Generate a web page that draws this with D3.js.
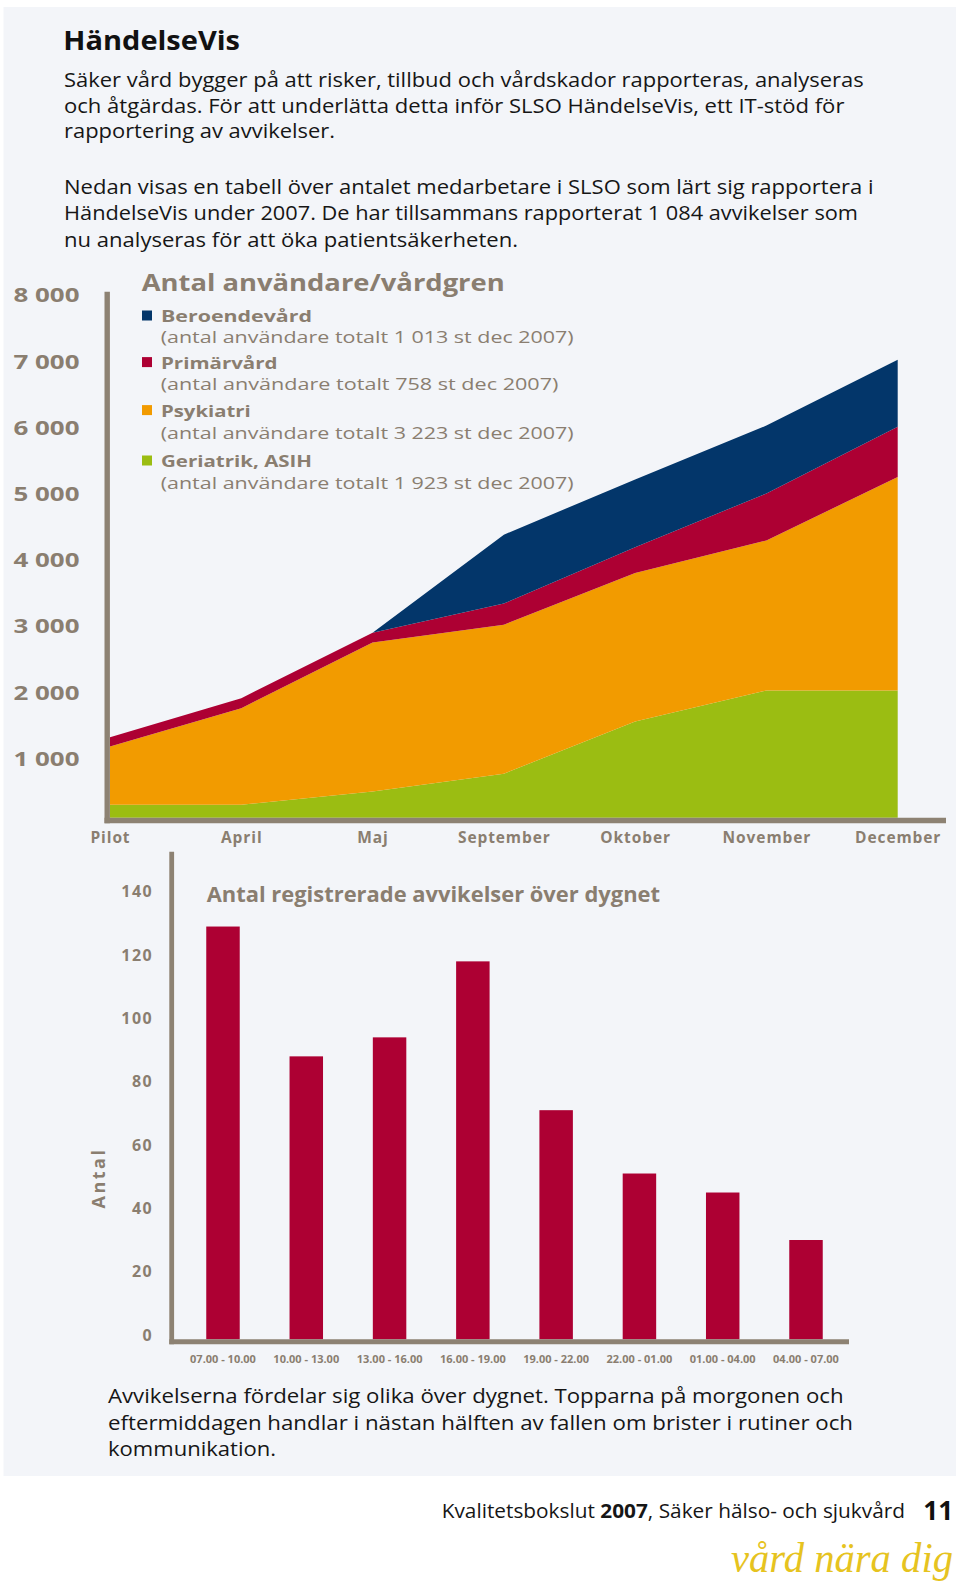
<!DOCTYPE html>
<html><head><meta charset="utf-8">
<script src="https://cdn.jsdelivr.net/npm/d3@7"></script>
<style>
body{margin:0;background:#fff}
svg{display:block}
text{font-family:"Open Sans","Noto Sans","DejaVu Sans",sans-serif}
</style>
</head><body>
<svg id="c" width="960" height="1589"></svg>
<script>
// ---------- DATA ----------
const months = ["Pilot","April","Maj","September","Oktober","November","December"];
const geriatrik    = [195, 195, 395, 665, 1455, 1923, 1923];
const psykiatri    = [880, 1460, 2250, 2250, 2240, 2265, 3223];
const primarvard   = [140, 150, 150, 320, 390, 710, 758];
const beroendevard = [0, 0, 0, 1040, 1025, 1025, 1013];
const areaTicks = [1000, 2000, 3000, 4000, 5000, 6000, 7000, 8000];

const legendNames = ["Beroendevård", "Primärvård", "Psykiatri", "Geriatrik, ASIH"];
const legendNotes = [
  "(antal användare totalt 1 013 st dec 2007)",
  "(antal användare totalt 758 st dec 2007)",
  "(antal användare totalt 3 223 st dec 2007)",
  "(antal användare totalt 1 923 st dec 2007)"
];

const timeSlots = ["07.00 - 10.00","10.00 - 13.00","13.00 - 16.00","16.00 - 19.00",
                   "19.00 - 22.00","22.00 - 01.00","01.00 - 04.00","04.00 - 07.00"];
const deviations = [129, 88, 94, 118, 71, 51, 45, 30];
const barTicks = [0, 20, 40, 60, 80, 100, 120, 140];

const introLines1 = [
  "Säker vård bygger på att risker, tillbud och vårdskador rapporteras, analyseras",
  "och åtgärdas. För att underlätta detta inför SLSO HändelseVis, ett IT-stöd för",
  "rapportering av avvikelser."
];
const introLines2 = [
  "Nedan visas en tabell över antalet medarbetare i SLSO som lärt sig rapportera i",
  "HändelseVis under 2007. De har tillsammans rapporterat 1 084 avvikelser som",
  "nu analyseras för att öka patientsäkerheten."
];
const outroLines = [
  "Avvikelserna fördelar sig olika över dygnet. Topparna på morgonen och",
  "eftermiddagen handlar i nästan hälften av fallen om brister i rutiner och",
  "kommunikation."
];

// ---------- STYLE / LAYOUT ----------
const GRAY = "#8a7e70", AXIS = "#8d8273", INK = "#161616";
const seriesKeys = ["geriatrik","psykiatri","primarvard","beroendevard"];
const seriesColor = {geriatrik:"#9bbd12", psykiatri:"#f29b00", primarvard:"#ad0033", beroendevard:"#03366a"};
const legendKeys = ["beroendevard","primarvard","psykiatri","geriatrik"];

const svg = d3.select("#c");
svg.append("rect").attr("x",3.5).attr("y",7).attr("width",952.5).attr("height",1469).attr("fill","#f3f5f9");

function addText(x, y, str, o) {
  const t = svg.append("text").attr("x", x).attr("y", y)
    .attr("font-size", o.size).attr("font-weight", o.weight || 400)
    .attr("fill", o.fill || INK).attr("text-anchor", o.anchor || "start").text(str);
  if (o.ls != null) t.attr("letter-spacing", o.ls);
  if (o.width) t.attr("textLength", o.width).attr("lengthAdjust", o.adjust || "spacingAndGlyphs");
  return t;
}

// Title + intro
addText(63.3, 50, "HändelseVis", {size:27, weight:700, fill:"#111", width:176.7});
const w1 = [799.7, 780.4, 271], w2 = [809.5, 794, 454];
introLines1.forEach((s,i) => addText(64, 87.3 + i*25.4, s, {size:20, width:w1[i]}));
introLines2.forEach((s,i) => addText(64, 193.8 + i*26.4, s, {size:20, width:w2[i]}));

// ---------- AREA CHART ----------
const x = d3.scalePoint().domain(months).range([110, 897.7]);
const y = d3.scaleLinear().domain([0, 8000]).range([817.7, 817.7 - 8*66.2]);
const rows = months.map((m,i) => ({month:m, geriatrik:geriatrik[i], psykiatri:psykiatri[i],
                                   primarvard:primarvard[i], beroendevard:beroendevard[i]}));
const stacked = d3.stack().keys(seriesKeys)(rows);
const area = d3.area().x(d => x(d.data.month)).y0(d => y(d[0])).y1(d => y(d[1]));
svg.append("g").selectAll("path").data(stacked).join("path")
  .attr("d", area).attr("fill", d => seriesColor[d.key]);

// axes lines
svg.append("line").attr("x1",107.2).attr("x2",107.2).attr("y1",291.7).attr("y2",823.3)
  .attr("stroke",AXIS).attr("stroke-width",5.4);
svg.append("line").attr("x1",104.5).attr("x2",946).attr("y1",820.5).attr("y2",820.5)
  .attr("stroke",AXIS).attr("stroke-width",5.4);

const fmt = d3.formatLocale({thousands:" ", grouping:[3], decimal:",", currency:["",""]}).format(",");
svg.append("g").selectAll("text").data(areaTicks).join("text")
  .attr("x", 79.5).attr("y", d => y(d) + 14.3)
  .attr("text-anchor","end").attr("font-size",19.5).attr("font-weight",700).attr("fill",GRAY)
  .attr("textLength",66).attr("lengthAdjust","spacingAndGlyphs")
  .text(d => fmt(d));

svg.append("g").selectAll("text").data(months).join("text")
  .attr("x", d => x(d) + 0.5).attr("y", 843.3)
  .attr("text-anchor","middle").attr("font-size",15.5).attr("font-weight",700)
  .attr("letter-spacing",0.9).attr("fill",GRAY).text(d => d);

// title + legend
addText(141.7, 290.7, "Antal användare/vårdgren", {size:24, weight:700, fill:GRAY, width:363});
const nameW = [151, 116.5, 89.7, 151], noteW = [413, 397.7, 413, 413];
const nameBase = [322, 368.6, 416.6, 467], noteBase = [342.6, 390.3, 438.6, 489.3];
legendKeys.forEach((k,i) => {
  svg.append("rect").attr("x",142).attr("y",nameBase[i]-11.5).attr("width",10).attr("height",10)
    .attr("fill", seriesColor[k]);
  addText(161, nameBase[i], legendNames[i], {size:16.5, weight:700, fill:GRAY, width:nameW[i]});
  addText(160.7, noteBase[i], legendNotes[i], {size:17, fill:GRAY, width:noteW[i]});
});

// ---------- BAR CHART ----------
const xb = d3.scaleBand().domain(timeSlots).range([181.35, 847.65]).paddingInner(0.598).paddingOuter(0.299);
const yb = d3.scaleLinear().domain([0, 140]).range([1335, 891.7]);
const barBase = 1339.3;
svg.append("g").selectAll("rect").data(deviations).join("rect")
  .attr("x", (d,i) => xb(timeSlots[i])).attr("width", xb.bandwidth())
  .attr("y", d => yb(d)).attr("height", d => barBase - yb(d)).attr("fill","#ad0033");

svg.append("line").attr("x1",171.7).attr("x2",171.7).attr("y1",851.7).attr("y2",1344.3)
  .attr("stroke",AXIS).attr("stroke-width",4.8);
svg.append("line").attr("x1",169.3).attr("x2",849).attr("y1",1341.8).attr("y2",1341.8)
  .attr("stroke",AXIS).attr("stroke-width",5);

svg.append("g").selectAll("text").data(barTicks).join("text")
  .attr("x", 153.2).attr("y", d => yb(d) + 5.7)
  .attr("text-anchor","end").attr("font-size",16).attr("font-weight",700)
  .attr("letter-spacing",1.5).attr("fill",GRAY).text(d => d);

svg.append("g").selectAll("text").data(timeSlots).join("text")
  .attr("x", d => xb(d) + xb.bandwidth()/2).attr("y", 1362.5)
  .attr("text-anchor","middle").attr("font-size",11).attr("font-weight",700)
  .attr("fill",GRAY).text(d => d);

addText(206.7, 902.3, "Antal registrerade avvikelser över dygnet", {size:20.5, weight:700, fill:GRAY, width:453.3});

svg.append("text").attr("transform","translate(104.8,1178) rotate(-90)")
  .attr("text-anchor","middle").attr("font-size",18).attr("font-weight",700)
  .attr("letter-spacing",2.5).attr("fill",GRAY).text("Antal");

// outro
const w3 = [735.5, 745, 168];
outroLines.forEach((s,i) => addText(108, 1403.3 + i*26.3, s, {size:20, width:w3[i]}));

// ---------- FOOTER ----------
const ft = svg.append("text").attr("x",905).attr("y",1518.3).attr("text-anchor","end")
  .attr("font-size",20).attr("fill",INK).attr("textLength",463.3).attr("lengthAdjust","spacingAndGlyphs");
ft.append("tspan").text("Kvalitetsbokslut ");
ft.append("tspan").attr("font-weight",700).text("2007");
ft.append("tspan").text(", Säker hälso- och sjukvård");
addText(923.3, 1519.5, "11", {size:27, weight:700, fill:"#111", width:30});

svg.append("text").attr("x",953).attr("y",1572).attr("text-anchor","end")
  .style("font-family","'Liberation Serif','DejaVu Serif',serif").style("font-style","italic")
  .attr("font-size",42).attr("fill","#e6c31f")
  .attr("textLength",222).attr("lengthAdjust","spacingAndGlyphs").text("vård nära dig");
</script>
</body></html>
